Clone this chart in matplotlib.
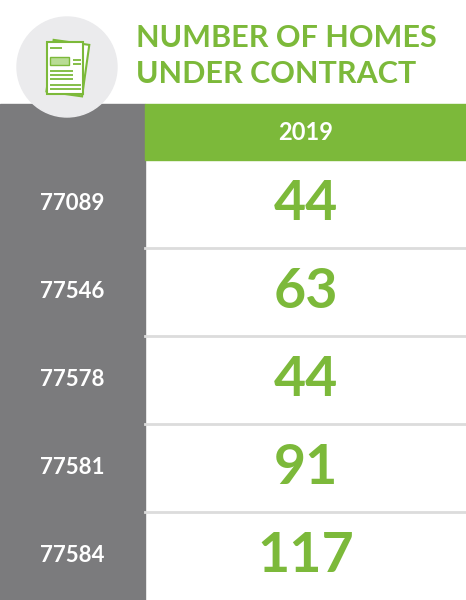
import matplotlib

matplotlib.use("Agg")
import matplotlib.pyplot as plt
from matplotlib.patches import Rectangle, Circle
from matplotlib.transforms import Affine2D

zip_codes = ["77089", "77546", "77578", "77581", "77584"]
homes_2019 = [44, 63, 44, 91, 117]
year_label = "2019"
title_lines = ["NUMBER OF HOMES", "UNDER CONTRACT"]

GREEN = "#7cb93a"
GRAY = "#7b7b7d"
SEP = "#dcdcdc"
FONT = "Lato"

W, H = 466, 600
fig = plt.figure(figsize=(W / 100, H / 100), dpi=100)
ax = fig.add_axes([0, 0, 1, 1])
ax.set_xlim(0, W)
ax.set_ylim(H, 0)
ax.axis("off")

col_x, head_top, head_bot = 145, 104, 160
row_h = (H - head_bot) / len(zip_codes)

# gray label column and green header
ax.add_patch(Rectangle((0, head_top), col_x, H - head_top, color=GRAY, zorder=1))
ax.add_patch(Rectangle((col_x, head_top), W - col_x, head_bot - head_top, color=GREEN, zorder=1))
ax.text((col_x + W) / 2, (head_top + head_bot) / 2 + 1, year_label, color="white",
        fontsize=17, fontweight="bold", family=FONT, ha="center", va="center")

# icon circle
ax.add_patch(Circle((67, 67), 50, color="#ebebed", zorder=2))
for ang, dx in ((8, 3), (0, 0)):
    tr = Affine2D().rotate_deg_around(67, 67, ang) + ax.transData
    ax.add_patch(Rectangle((47 + dx, 42), 36, 52, facecolor="white", edgecolor=GREEN,
                           lw=1.5, zorder=3, transform=tr))
ax.add_patch(Rectangle((50, 57), 19, 8, facecolor="#b9dc95", edgecolor=GREEN, lw=1, zorder=4))
for y0, x0, x1 in ((48, 50, 62), (60, 73, 81), (64, 73, 81), (71, 50, 73), (75, 50, 73),
                   (79, 50, 73), (85, 50, 81), (89, 50, 81)):
    ax.plot([x0, x1], [y0, y0], color=GREEN, lw=1.3, zorder=4, solid_capstyle="butt")

for i, line in enumerate(title_lines):
    ax.text(136, 38 + i * 36, line, color=GREEN, fontsize=22, fontweight="bold",
            family=FONT, ha="left", va="center")

# rows
for i, (z, v) in enumerate(zip(zip_codes, homes_2019)):
    yc = head_bot + row_h * (i + 0.5)
    ax.text(col_x / 2, yc, z, color="white", fontsize=16, fontweight="bold",
            family=FONT, ha="center", va="center")
    ax.text((col_x + W) / 2, yc, str(v), color=GREEN, fontsize=40, fontweight="bold",
            family=FONT, ha="center", va="center")
    if i > 0:
        yl = head_bot + row_h * i
        ax.plot([col_x, W], [yl, yl], color=SEP, lw=2, zorder=2)

fig.savefig("out.png", dpi=100)
